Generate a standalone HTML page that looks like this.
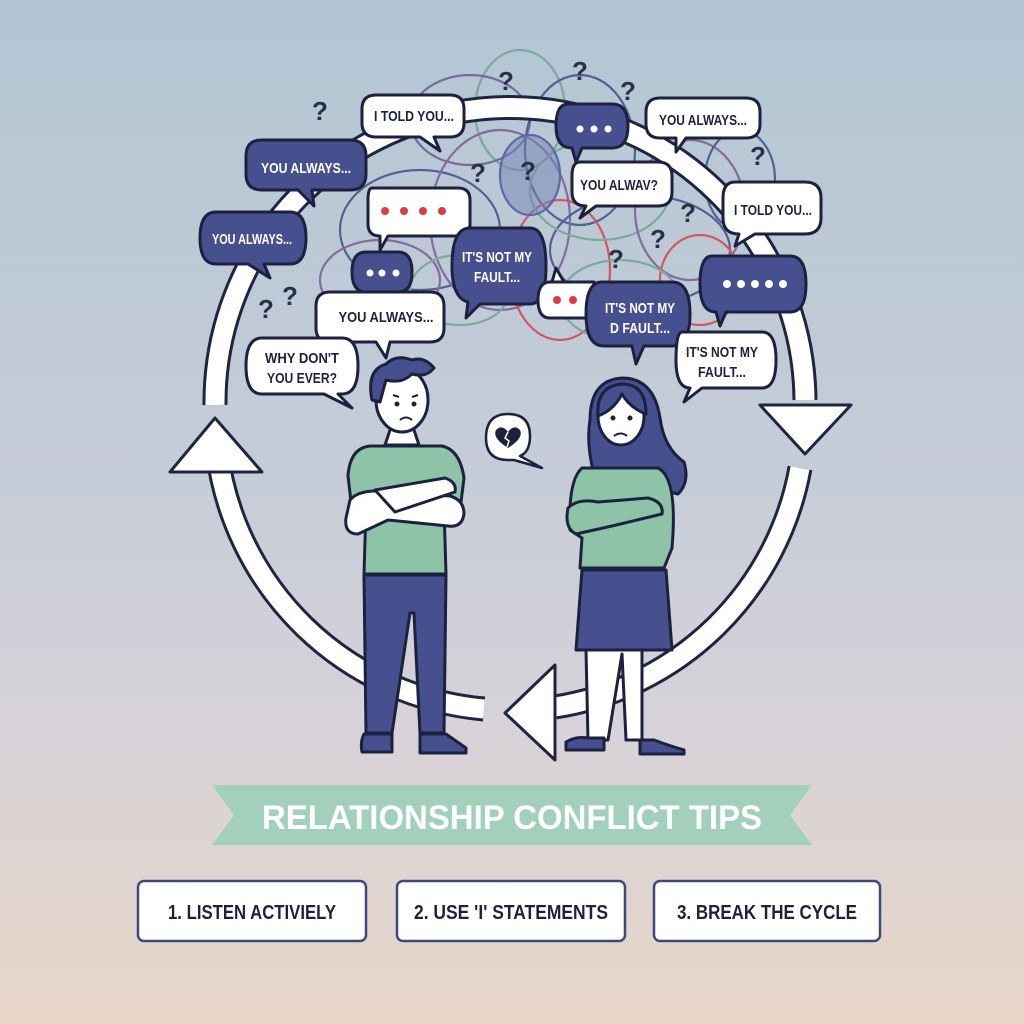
<!DOCTYPE html>
<html><head><meta charset="utf-8"><style>
html,body{margin:0;padding:0;width:1024px;height:1024px;overflow:hidden}
body{background:linear-gradient(#b2c6d3 0%,#c5ccd7 45%,#d6d2d8 70%,#e8d6c8 100%)}
svg{position:absolute;left:0;top:0}
text{font-family:"Liberation Sans",sans-serif;font-weight:bold}
</style></head><body>
<svg width="1024" height="1024" viewBox="0 0 1024 1024">
<!-- tangled loops -->
<g fill="none" stroke-width="2.2" opacity="0.85">
<ellipse cx="520" cy="110" rx="45" ry="60" stroke="#6fa58e"/>
<ellipse cx="470" cy="120" rx="60" ry="45" stroke="#6a5a92"/>
<ellipse cx="580" cy="150" rx="55" ry="75" stroke="#3e4f8a"/>
<ellipse cx="420" cy="230" rx="80" ry="60" stroke="#3e4f8a"/>
<ellipse cx="500" cy="220" rx="70" ry="90" stroke="#7a5a96"/>
<ellipse cx="560" cy="270" rx="50" ry="70" stroke="#d8404a"/>
<ellipse cx="640" cy="250" rx="90" ry="55" stroke="#3e4f8a"/>
<ellipse cx="600" cy="190" rx="70" ry="50" stroke="#6fa58e"/>
<ellipse cx="690" cy="210" rx="55" ry="70" stroke="#7a5a96"/>
<ellipse cx="380" cy="280" rx="60" ry="40" stroke="#7a5a96"/>
<ellipse cx="460" cy="290" rx="50" ry="35" stroke="#6fa58e"/>
<ellipse cx="700" cy="280" rx="40" ry="45" stroke="#d8404a"/>
<ellipse cx="740" cy="180" rx="35" ry="50" stroke="#3e4f8a"/>
<ellipse cx="530" cy="175" rx="30" ry="40" stroke="#4a58a0" fill="#6a78b0" fill-opacity="0.5"/>
<ellipse cx="620" cy="300" rx="60" ry="40" stroke="#6fa58e"/>
</g>
<g font-size="26" fill="#2a2f4a">
<text x="312" y="120">?</text><text x="498" y="90">?</text><text x="572" y="80">?</text><text x="620" y="100">?</text>
<text x="470" y="182">?</text><text x="520" y="180">?</text><text x="750" y="165">?</text><text x="680" y="222">?</text>
<text x="650" y="248">?</text><text x="608" y="268">?</text><text x="258" y="318">?</text><text x="282" y="305">?</text>
</g>
<!-- arrows -->
<g fill="none" stroke-linecap="butt">
<path d="M484 709 A295 295 0 0 1 217 450" stroke="#1f2440" stroke-width="25"/>
<path d="M484 709 A295 295 0 0 1 217 450" stroke="#fff" stroke-width="19"/>
<path d="M215 405 A295 295 0 0 1 805 400" stroke="#1f2440" stroke-width="25"/>
<path d="M215 405 A295 295 0 0 1 805 400" stroke="#fff" stroke-width="19"/>
<path d="M800 468 A295 295 0 0 1 555 707" stroke="#1f2440" stroke-width="25"/>
<path d="M800 468 A295 295 0 0 1 555 707" stroke="#fff" stroke-width="19"/>
</g>
<g fill="#fff" stroke="#1f2440" stroke-width="3" stroke-linejoin="round">
<polygon points="215,418 170,472 262,472"/>
<polygon points="805,454 760,405 851,405"/>
<polygon points="505,713 555,665 555,760"/>
</g>
<!-- bubbles -->
<g stroke="#1c2140" stroke-width="3" stroke-linejoin="round">
<path d="M376 95 h74 q14 0 14 14 v14 q0 14 -14 14 h-16 l6 14 -20 -14 h-44 q-14 0 -14 -14 v-14 q0 -14 14 -14z" fill="#fff"/>
<path d="M568 104 h44 q16 0 16 22 q0 22 -16 22 h-30 l-6 14 -4 -14 q-16 0 -16 -22 q0 -22 12 -22z" fill="#46508e"/>
<path d="M660 98 h86 q14 0 14 14 v12 q0 14 -14 14 h-60 l-10 14 0 -14 h-16 q-14 0 -14 -14 v-12 q0 -14 14 -14z" fill="#fff"/>
<path d="M262 140 h88 q16 0 16 16 v18 q0 16 -16 16 h-38 l2 16 -16 -16 h-36 q-16 0 -16 -16 v-18 q0 -16 16 -16z" fill="#46508e"/>
<path d="M372 188 h86 q12 0 12 12 v24 q0 12 -12 12 h-70 l-8 14 0 -14 q-12 0 -12 -12 v-24 q0 -12 4 -12z" fill="#fff"/>
<path d="M580 162 h78 q14 0 14 14 v16 q0 14 -14 14 h-62 l-16 12 6 -12 q-14 0 -14 -14 v-16 q0 -14 8 -14z" fill="#fff"/>
<path d="M735 182 h70 q16 0 16 16 v20 q0 16 -16 16 h-50 l-20 12 4 -12 q-16 0 -16 -16 v-20 q0 -16 12 -16z" fill="#fff"/>
<path d="M216 212 h74 q16 0 16 26 q0 26 -16 26 h-26 l6 14 -22 -14 h-32 q-16 0 -16 -26 q0 -26 16 -26z" fill="#46508e"/>
<path d="M366 252 h32 q14 0 14 20 q0 20 -14 20 h-32 q-14 0 -14 -20 q0 -20 14 -20z" fill="#46508e"/>
<path d="M468 228 h62 q16 0 16 38 q0 38 -16 38 h-50 l-14 14 2 -16 q-16 -4 -16 -36 q0 -38 18 -38z" fill="#46508e"/>
<path d="M550 282 h44 v36 h-44 q-12 0 -12 -18 q0 -18 12 -18z M552 282 l4 -14 8 14z" fill="#fff"/>
<path d="M602 282 h70 q18 0 18 32 q0 32 -18 32 h-28 l-8 18 -4 -18 h-28 q-18 0 -18 -32 q0 -32 16 -32z" fill="#46508e"/>
<path d="M712 256 h78 q16 0 16 28 q0 28 -16 28 h-64 l-6 14 -4 -14 q-16 0 -16 -28 q0 -28 12 -28z" fill="#46508e"/>
<path d="M330 292 h100 q14 0 14 14 v22 q0 14 -14 14 h-40 l-4 16 -10 -16 h-46 q-14 0 -14 -14 v-22 q0 -14 14 -14z" fill="#fff"/>
<path d="M262 338 h80 q16 0 16 28 q0 28 -16 28 h-4 l14 14 -28 -14 h-62 q-16 0 -16 -28 q0 -28 16 -28z" fill="#fff"/>
<path d="M682 332 h80 q14 0 14 28 q0 28 -14 28 h-60 l-18 14 6 -14 q-14 0 -14 -28 q0 -28 6 -28z" fill="#fff"/>
<path d="M508 414 q22 0 22 22 q0 16 -10 20 l22 12 -28 -8 q-2 0 -6 0 q-22 0 -22 -22 q0 -24 22 -24z" fill="#fff" stroke-width="2.5"/>
</g>
<path d="M508 432 q-6 -8 -12 -2 q-4 8 12 18 q16 -10 12 -18 q-6 -6 -12 2z" fill="#1c2140"/>
<path d="M508 432 l-3 6 4 3 -2 6" stroke="#fff" stroke-width="1.5" fill="none"/>
<!-- bubble texts -->
<g font-size="15" fill="#1c2140" text-anchor="middle" lengthAdjust="spacingAndGlyphs">
<text x="414" y="121" textLength="80" lengthAdjust="spacingAndGlyphs">I TOLD YOU...</text>
<text x="703" y="125" textLength="88" lengthAdjust="spacingAndGlyphs">YOU ALWAYS...</text>
<text x="619" y="190" textLength="78" lengthAdjust="spacingAndGlyphs">YOU ALWAV?</text>
<text x="773" y="215" textLength="78" lengthAdjust="spacingAndGlyphs">I TOLD YOU...</text>
<text x="386" y="322" textLength="95" lengthAdjust="spacingAndGlyphs">YOU ALWAYS...</text>
<text x="302" y="363" textLength="74" lengthAdjust="spacingAndGlyphs">WHY DON'T</text><text x="302" y="383" textLength="70" lengthAdjust="spacingAndGlyphs">YOU EVER?</text>
<text x="722" y="357" textLength="72" lengthAdjust="spacingAndGlyphs">IT'S NOT MY</text><text x="722" y="377" textLength="48" lengthAdjust="spacingAndGlyphs">FAULT...</text>
</g>
<g font-size="15" fill="#fff" text-anchor="middle">
<text x="306" y="173" textLength="90" lengthAdjust="spacingAndGlyphs">YOU ALWAYS...</text>
<text x="252" y="244" textLength="80" lengthAdjust="spacingAndGlyphs">YOU ALWAYS...</text>
<text x="497" y="262" textLength="70" lengthAdjust="spacingAndGlyphs">IT'S NOT MY</text><text x="497" y="282" textLength="46" lengthAdjust="spacingAndGlyphs">FAULT...</text>
<text x="640" y="313" textLength="70" lengthAdjust="spacingAndGlyphs">IT'S NOT MY</text><text x="640" y="333" textLength="60" lengthAdjust="spacingAndGlyphs">D FAULT...</text>
</g>
<g fill="#fff"><circle cx="580" cy="129" r="3.5"/><circle cx="594" cy="129" r="3.5"/><circle cx="608" cy="129" r="3.5"/>
<circle cx="370" cy="273" r="3.5"/><circle cx="382" cy="273" r="3.5"/><circle cx="396" cy="273" r="3.5"/>
<circle cx="727" cy="284" r="4"/><circle cx="741" cy="284" r="4"/><circle cx="755" cy="284" r="4"/><circle cx="769" cy="284" r="4"/><circle cx="783" cy="284" r="4"/></g>
<g fill="#e03a45"><circle cx="385" cy="211" r="4"/><circle cx="404" cy="211" r="4"/><circle cx="423" cy="211" r="4"/><circle cx="442" cy="211" r="4"/>
<circle cx="557" cy="300" r="4"/><circle cx="573" cy="300" r="4"/></g>
<!-- man -->
<g stroke="#1c2140" stroke-width="3" stroke-linejoin="round">
<path d="M364 575 h82 l-2 158 h-24 l-6 -120 h-4 l-18 120 h-26z" fill="#46508e"/>
<path d="M364 734 h28 v18 h-30 q-2 -10 2 -18z M420 734 h26 l20 14 v5 h-46z" fill="#46508e"/>
<path d="M385 445 l6 -18 h22 l6 18z" fill="#fff"/>
<path d="M370 446 h72 q18 4 22 32 l-4 32 -16 -2 2 66 h-82 l2 -66 -14 2 -4 -34 q2 -28 22 -30z" fill="#8fc3a8"/>
<path d="M350 500 q10 -12 40 -8 l60 4 q14 4 14 18 q-2 14 -16 12 l-60 -6 -30 14 q-14 0 -12 -16z" fill="#fff"/>
<path d="M375 490 l70 -12 q12 4 10 14 l-60 20z" fill="#fff"/>
<ellipse cx="402" cy="400" rx="26" ry="32" fill="#fff"/>
<path d="M372 400 q-6 -30 14 -36 q10 -10 26 -4 q12 -4 22 8 q-8 10 -22 6 q-10 10 -26 6 l-6 22z" fill="#46508e"/>
</g>
<g stroke="#1c2140" stroke-width="2" fill="none"><path d="M393 395 l6 2 M412 397 l6 -2 M400 420 q6 -5 12 0"/></g>
<circle cx="397" cy="404" r="2.5" fill="#1c2140"/><circle cx="414" cy="404" r="2.5" fill="#1c2140"/>
<!-- woman -->
<g stroke="#1c2140" stroke-width="3" stroke-linejoin="round">
<path d="M590 420 q0 -40 32 -42 q32 0 38 40 q4 30 24 44 q6 20 -6 32 l-84 -20 q-8 -30 -4 -54z" fill="#46508e"/>
<path d="M586 650 h56 v90 h-16 l-4 -86 -14 86 h-20z" fill="#fff"/>
<path d="M566 742 q10 -6 22 -4 h16 v12 h-38z M640 740 h14 q16 6 30 10 v4 h-44z" fill="#46508e"/>
<path d="M582 468 h76 q20 10 14 80 l-8 20 h-84 l2 -30 -12 -8 q-2 -50 12 -62z" fill="#8fc3a8"/>
<path d="M582 570 h84 l6 80 h-96z" fill="#46508e"/>
<path d="M568 508 q10 -10 30 -6 l50 -4 q16 4 14 16 l-50 12 -36 8 q-12 -6 -8 -26z" fill="#8fc3a8"/>
<ellipse cx="621" cy="416" rx="23" ry="29" fill="#fff"/>
<path d="M598 416 q-2 -30 24 -32 q24 0 24 30 q-16 -6 -24 -20 q-8 16 -24 22z" fill="#46508e"/>
</g>
<circle cx="613" cy="418" r="2.5" fill="#1c2140"/><circle cx="630" cy="418" r="2.5" fill="#1c2140"/>
<path d="M614 436 q7 -5 13 0" stroke="#1c2140" stroke-width="2" fill="none"/>
<!-- banner -->
<polygon points="212,785 812,785 790,815 812,845 212,845 234,815" fill="#a2d0bb"/>
<text x="512" y="829" font-size="34" fill="#fff" text-anchor="middle" textLength="500" lengthAdjust="spacingAndGlyphs">RELATIONSHIP CONFLICT TIPS</text>
<!-- boxes -->
<g fill="#fff" stroke="#3d4a80" stroke-width="2.5">
<rect x="138" y="881" width="228" height="60" rx="6"/>
<rect x="397" y="881" width="228" height="60" rx="6"/>
<rect x="654" y="881" width="226" height="60" rx="6"/>
</g>
<g font-size="20" fill="#1c2140" text-anchor="middle">
<text x="252" y="919" textLength="168" lengthAdjust="spacingAndGlyphs">1. LISTEN ACTIVIELY</text>
<text x="511" y="919" textLength="194" lengthAdjust="spacingAndGlyphs">2. USE 'I' STATEMENTS</text>
<text x="767" y="919" textLength="180" lengthAdjust="spacingAndGlyphs">3. BREAK THE CYCLE</text>
</g>
</svg>
</body></html>
